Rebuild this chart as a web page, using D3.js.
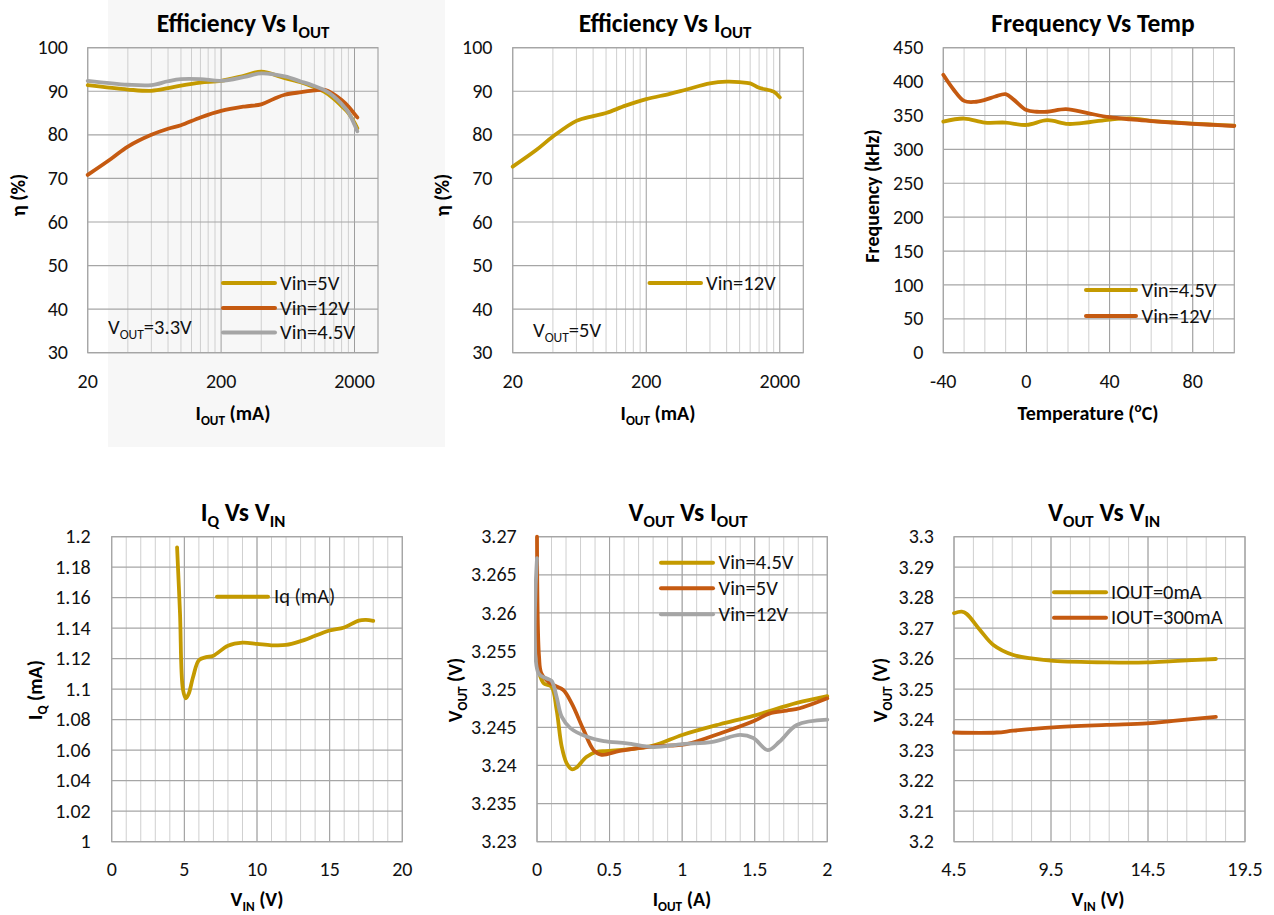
<!DOCTYPE html>
<html><head><meta charset="utf-8">
<script src="https://cdn.jsdelivr.net/npm/d3@7"></script>
<style>
body{margin:0;background:#fff}
.tk{font-family:Carlito,Lato,sans-serif;font-size:20px;fill:#111}
.lg{font-family:Carlito,Lato,sans-serif;font-size:20.5px;fill:#111}
.tt{font-family:Carlito,Lato,sans-serif;font-weight:bold;font-size:25.5px;fill:#000}
.at{font-family:Carlito,Lato,sans-serif;font-weight:bold;font-size:20px;fill:#000}
</style>
</head><body>
<svg id="c" width="1274" height="915"></svg>
<script>
// ---------- DATA ----------
// Chart 1: Efficiency vs IOUT, VOUT=3.3V (log x, mA)
const eff33X = [20,40,60,80,100,140,200,300,400,600,800,1000,1200,1400,1600,1800,2000,2100];
const eff33Vin5 = [91.4,90.4,90.1,90.7,91.3,92.0,92.4,93.6,94.5,93.0,92.0,90.9,89.8,88.3,86.6,85.0,82.8,81.5];
const eff33Vin45 = [92.4,91.5,91.4,92.3,92.8,92.8,92.4,93.3,94.1,93.4,92.2,91.2,90.2,88.8,87.1,85.2,82.3,80.8];
const eff33Vin12X = [20,30,40,60,80,100,140,200,300,400,500,600,800,1000,1200,1400,1600,1800,2000,2100];
const eff33Vin12 = [70.8,74.5,77.3,80.0,81.4,82.2,84.0,85.5,86.5,87.0,88.3,89.2,89.8,90.2,90.3,89.3,88.0,86.5,84.8,84.0];
// Chart 2: Efficiency vs IOUT, VOUT=5V
const eff5X = [20,30,40,60,80,100,140,200,300,400,600,800,1000,1200,1400,1800,2000];
const eff5Vin12 = [72.7,76.5,79.6,83.2,84.3,85.0,86.7,88.2,89.4,90.4,91.8,92.2,92.1,91.8,90.8,89.9,88.6];
// Chart 3: Frequency vs Temp
const tempX45 = [-40,-30,-20,-10,0,10,20,30,40,50,60,70,80,90,100];
const freqVin45 = [341,345.5,339.5,339.5,336,343,337.5,340,344,345.8,342,340,338,336.5,335];
const tempX12 = [-40,-35,-30,-25,-20,-15,-10,-6,0,5,10,19,30,40,50,60,70,80,90,100];
const freqVin12 = [410,388,371.5,370,373,378,381.5,373,358,355.5,355.5,359.5,353,347.5,344.3,341.8,339.5,337.5,336,334.5];
// Chart 4: IQ vs VIN
const iqVin = [4.5,4.7,4.9,5.1,5.3,5.6,6,6.5,7,8,9,10,11,12,13,14,15,16,17,17.5,18];
const iqVal = [1.193,1.15,1.10,1.094,1.097,1.108,1.119,1.121,1.122,1.1285,1.1305,1.1297,1.1288,1.129,1.1315,1.135,1.1385,1.1405,1.145,1.1455,1.1448];
// Chart 5: VOUT vs IOUT (A)
const voX45 = [0,0.044,0.1,0.135,0.17,0.204,0.24,0.27,0.34,0.41,0.5,0.8,1.0,1.26,1.49,1.79,2.0];
const voVin45 = [3.2535,3.2508,3.2503,3.2473,3.2425,3.2403,3.2395,3.2397,3.2411,3.2418,3.2419,3.2426,3.244,3.2454,3.2465,3.2482,3.2491];
const voX5 = [0,0.014,0.03,0.09,0.18,0.24,0.32,0.39,0.445,0.57,0.8,1.03,1.26,1.49,1.6,1.72,1.81,2.0];
const voVin5 = [3.27,3.2543,3.2521,3.2508,3.2499,3.2481,3.2447,3.242,3.2414,3.2419,3.2425,3.2428,3.2442,3.2458,3.2468,3.2472,3.2475,3.2488];
const voX12 = [0,0.01,0.067,0.1,0.135,0.17,0.23,0.34,0.46,0.62,0.8,1.0,1.21,1.4,1.49,1.59,1.67,1.79,2.0];
const voVin12 = [3.2672,3.2521,3.2514,3.2511,3.249,3.2464,3.2449,3.2438,3.2432,3.2429,3.2424,3.2428,3.2431,3.244,3.2436,3.242,3.2431,3.2453,3.246];
// Chart 6: VOUT vs VIN
const vvX0 = [4.5,4.9,5.15,5.84,6.53,7.56,8.59,9.62,12.37,14.43,15.8,18.0];
const vvI0 = [3.2749,3.2754,3.2747,3.2694,3.2645,3.2612,3.26,3.2593,3.2588,3.2588,3.2592,3.2599];
const vvX300 = [4.5,6.7,7.56,9.62,12.37,14.43,15.8,18.0];
const vvI300 = [3.2358,3.2358,3.2364,3.2375,3.2383,3.2388,3.2396,3.2409];
// tick labels
const effYTicks = [30,40,50,60,70,80,90,100];
const effXTicks = [20,200,2000];
const freqYTicks = [0,50,100,150,200,250,300,350,400,450];
const tempXTicks = [-40,0,40,80];
const iqYTicks = [1,1.02,1.04,1.06,1.08,1.1,1.12,1.14,1.16,1.18,1.2];
const iqXTicks = [0,5,10,15,20];
const voYTicks = [3.23,3.235,3.24,3.245,3.25,3.255,3.26,3.265,3.27];
const voXTicks = [0,0.5,1,1.5,2];
const vvYTicks = [3.2,3.21,3.22,3.23,3.24,3.25,3.26,3.27,3.28,3.29,3.3];
const vvXTicks = [4.5,9.5,14.5,19.5];

// ---------- DRAW ----------
const GOLD='#C49A00', ORANGE='#C55A11', GRAY='#A5A5A5';
const svg=d3.select('#c');

// faint watermark background band
svg.append('rect').attr('x',108).attr('y',0).attr('width',337).attr('height',447).attr('fill','#F7F7F7');

function rich(sel, parts, size){
  let shift=0;
  parts.forEach(p=>{
    const s=p[0], t=p[1]||'n';
    const ts=sel.append('tspan').text(s);
    const target = t==='sub'? 0.25*size : t==='sup'? -0.4*size : 0;
    if(target-shift!==0) ts.attr('dy', target-shift);
    shift=target;
    if(t!=='n') ts.attr('font-size', size*0.66);
  });
}

function chart(o){
  const g=svg.append('g');
  const x=o.xScale.copy().range([o.x0,o.x1]);
  const y=d3.scaleLinear().domain(o.yDomain).range([o.y1,o.y0]);
  o.xMinor.forEach(v=>g.append('line').attr('x1',x(v)).attr('x2',x(v)).attr('y1',o.y0).attr('y2',o.y1).attr('stroke','#CFCFCF').attr('stroke-width',1));
  o.xMajor.forEach(v=>g.append('line').attr('x1',x(v)).attr('x2',x(v)).attr('y1',o.y0).attr('y2',o.y1).attr('stroke','#9E9E9E').attr('stroke-width',1));
  o.yTicks.forEach(v=>g.append('line').attr('x1',o.x0).attr('x2',o.x1).attr('y1',y(v)).attr('y2',y(v)).attr('stroke','#A6A6A6').attr('stroke-width',1.2));
  g.append('rect').attr('x',o.x0).attr('y',o.y0).attr('width',o.x1-o.x0).attr('height',o.y1-o.y0).attr('fill','none').attr('stroke','#A6A6A6').attr('stroke-width',1.2);
  o.yTicks.forEach(v=>g.append('text').attr('class','tk').attr('x',o.yLabX).attr('y',y(v)).attr('dy','0.33em').attr('text-anchor','end').text(o.yFmt(v)));
  o.xTicks.forEach(v=>g.append('text').attr('class','tk').attr('x',x(v)).attr('y',o.xLabY).attr('dy','0.33em').attr('text-anchor','middle').text(String(v)));
  const clipId='clip'+Math.random().toString(36).slice(2);
  svg.append('clipPath').attr('id',clipId).append('rect').attr('x',o.x0-3).attr('y',o.y0-3).attr('width',o.x1-o.x0+6).attr('height',o.y1-o.y0+6);
  const line=d3.line().x(d=>x(d[0])).y(d=>y(d[1])).curve(d3.curveCatmullRom.alpha(0.5));
  o.series.forEach(s=>{
    const pts=s.x.map((xv,i)=>[xv,s.y[i]]);
    g.append('path').attr('d',line(pts)).attr('fill','none').attr('stroke',s.color).attr('stroke-width',3.8).attr('stroke-linejoin','round').attr('stroke-linecap','round').attr('clip-path','url(#'+clipId+')');
  });
  o.legend.items.forEach((it,i)=>{
    const ly=o.legend.ys[i];
    g.append('line').attr('x1',o.legend.lx0).attr('x2',o.legend.lx1).attr('y1',ly).attr('y2',ly).attr('stroke',it.color).attr('stroke-width',4).attr('stroke-linecap','round');
    g.append('text').attr('class','lg').attr('x',o.legend.tx).attr('y',ly).attr('dy','0.33em').text(it.name);
  });
  rich(g.append('text').attr('class','tt').attr('x',o.titleX).attr('y',o.titleY).attr('text-anchor','middle'), o.title, 25.5);
  rich(g.append('text').attr('class','at').attr('x',o.xtX).attr('y',o.xtY).attr('text-anchor','middle'), o.xTitle, 20);
  rich(g.append('text').attr('class','at').attr('text-anchor','middle').attr('transform',`translate(${o.ytX},${o.ytY}) rotate(-90)`), o.yTitle, 20);
  if(o.note){
    rich(g.append('text').attr('class','lg').attr('x',o.note.x).attr('y',o.note.y), o.note.parts, 20.5);
  }
}

const r = (a,b,s)=>d3.range(a,b+s/2,s).map(v=>+v.toFixed(4));
const fmt = v=>String(+v.toFixed(4));

chart({x0:87.7,x1:378,y0:47.7,y1:352.7,
  xScale:d3.scaleLog().domain([20,3000]), yDomain:[30,100],
  xMajor:[20,200,2000], xMinor:[40,60,80,100,120,140,160,180,400,600,800,1000,1200,1400,1600,1800],
  yTicks:effYTicks, xTicks:effXTicks, yFmt:fmt, yLabX:68, xLabY:381,
  series:[{x:eff33X,y:eff33Vin5,color:GOLD},{x:eff33Vin12X,y:eff33Vin12,color:ORANGE},{x:eff33X,y:eff33Vin45,color:GRAY}],
  legend:{lx0:223,lx1:275,tx:280,ys:[283,308,332.5],items:[{name:'Vin=5V',color:GOLD},{name:'Vin=12V',color:ORANGE},{name:'Vin=4.5V',color:GRAY}]},
  title:[['Efficiency Vs  I'],['OUT','sub']], titleX:243, titleY:32,
  xTitle:[['I'],['OUT','sub'],[' (mA)']], xtX:233, xtY:420,
  yTitle:[['η (%)']], ytX:25, ytY:195,
  note:{x:108,y:334,parts:[['V'],['OUT','sub'],['=3.3V']]}
});
chart({x0:512.7,x1:803.3,y0:47.7,y1:352.7,
  xScale:d3.scaleLog().domain([20,3000]), yDomain:[30,100],
  xMajor:[20,200,2000], xMinor:[40,60,80,100,120,140,160,180,400,600,800,1000,1200,1400,1600,1800],
  yTicks:effYTicks, xTicks:effXTicks, yFmt:fmt, yLabX:492.5, xLabY:381,
  series:[{x:eff5X,y:eff5Vin12,color:GOLD}],
  legend:{lx0:649.5,lx1:701,tx:706,ys:[283],items:[{name:'Vin=12V',color:GOLD}]},
  title:[['Efficiency Vs  I'],['OUT','sub']], titleX:665, titleY:32,
  xTitle:[['I'],['OUT','sub'],[' (mA)']], xtX:658, xtY:420,
  yTitle:[['η (%)']], ytX:449, ytY:195,
  note:{x:533,y:337,parts:[['V'],['OUT','sub'],['=5V']]}
});
chart({x0:943.3,x1:1234.3,y0:47.7,y1:352.7,
  xScale:d3.scaleLinear().domain([-40,100]), yDomain:[0,450],
  xMajor:[-40,0,40,80], xMinor:r(-30,90,10),
  yTicks:freqYTicks, xTicks:tempXTicks, yFmt:fmt, yLabX:923.5, xLabY:381,
  series:[{x:tempX45,y:freqVin45,color:GOLD},{x:tempX12,y:freqVin12,color:ORANGE}],
  legend:{lx0:1086,lx1:1136,tx:1141.5,ys:[290,316],items:[{name:'Vin=4.5V',color:GOLD},{name:'Vin=12V',color:ORANGE}]},
  title:[['Frequency Vs Temp']], titleX:1093, titleY:32,
  xTitle:[['Temperature ('],['o','sup'],['C)']], xtX:1088, xtY:420,
  yTitle:[['Frequency (kHz)']], ytX:879, ytY:196
});
chart({x0:111.7,x1:402.3,y0:536.7,y1:841.7,
  xScale:d3.scaleLinear().domain([0,20]), yDomain:[1,1.2],
  xMajor:[0,5,10,15,20], xMinor:r(1,19,1),
  yTicks:iqYTicks, xTicks:iqXTicks, yFmt:fmt, yLabX:90.7, xLabY:869,
  series:[{x:iqVin,y:iqVal,color:GOLD}],
  legend:{lx0:217,lx1:268,tx:274,ys:[596.7],items:[{name:'Iq (mA)',color:GOLD}]},
  title:[['I'],['Q','sub'],[' Vs  V'],['IN','sub']], titleX:243, titleY:521,
  xTitle:[['V'],['IN','sub'],[' (V)']], xtX:257, xtY:906,
  yTitle:[['I'],['Q','sub'],[' (mA)']], ytX:42, ytY:690
});
chart({x0:537,x1:827.3,y0:536.7,y1:841.7,
  xScale:d3.scaleLinear().domain([0,2]), yDomain:[3.23,3.27],
  xMajor:[0,0.5,1,1.5,2], xMinor:r(0.1,1.9,0.1),
  yTicks:voYTicks, xTicks:voXTicks, yFmt:fmt, yLabX:516.7, xLabY:869,
  series:[{x:voX45,y:voVin45,color:GOLD},{x:voX5,y:voVin5,color:ORANGE},{x:voX12,y:voVin12,color:GRAY}],
  legend:{lx0:661,lx1:713,tx:718.5,ys:[562.7,588.3,614.3],items:[{name:'Vin=4.5V',color:GOLD},{name:'Vin=5V',color:ORANGE},{name:'Vin=12V',color:GRAY}]},
  title:[['V'],['OUT','sub'],[' Vs  I'],['OUT','sub']], titleX:688, titleY:521,
  xTitle:[['I'],['OUT','sub'],[' (A)']], xtX:682, xtY:906,
  yTitle:[['V'],['OUT','sub'],[' (V)']], ytX:462, ytY:690
});
chart({x0:954,x1:1245,y0:536.7,y1:841.7,
  xScale:d3.scaleLinear().domain([4.5,19.5]), yDomain:[3.2,3.3],
  xMajor:[4.5,9.5,14.5,19.5], xMinor:r(5.5,18.5,1),
  yTicks:vvYTicks, xTicks:vvXTicks, yFmt:fmt, yLabX:934, xLabY:869,
  series:[{x:vvX0,y:vvI0,color:GOLD},{x:vvX300,y:vvI300,color:ORANGE}],
  legend:{lx0:1054,lx1:1106,tx:1111,ys:[592.3,617.7],items:[{name:'IOUT=0mA',color:GOLD},{name:'IOUT=300mA',color:ORANGE}]},
  title:[['V'],['OUT','sub'],[' Vs  V'],['IN','sub']], titleX:1104, titleY:521,
  xTitle:[['V'],['IN','sub'],[' (V)']], xtX:1098, xtY:906,
  yTitle:[['V'],['OUT','sub'],[' (V)']], ytX:887, ytY:690
});
</script>
</body></html>
